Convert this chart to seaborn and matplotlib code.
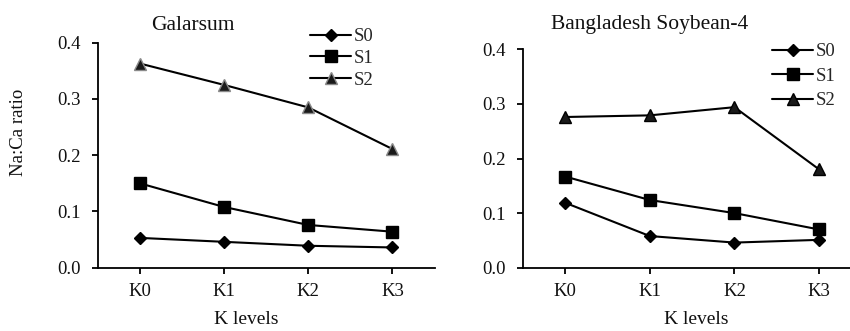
import matplotlib
matplotlib.use("Agg")
import matplotlib.pyplot as plt
import seaborn as sns
import pandas as pd

k_levels = ["K0", "K1", "K2", "K3"]
series = ["S0", "S1", "S2"]

galarsum_s0 = [0.053, 0.046, 0.039, 0.036]
galarsum_s1 = [0.150, 0.108, 0.076, 0.064]
galarsum_s2 = [0.363, 0.325, 0.285, 0.211]

soybean_s0 = [0.119, 0.058, 0.046, 0.051]
soybean_s1 = [0.167, 0.124, 0.100, 0.070]
soybean_s2 = [0.276, 0.279, 0.294, 0.180]

titles = ["Galarsum", "Bangladesh Soybean-4"]
ylabel = "Na:Ca ratio"
xlabel = "K levels"

sns.set_theme(style="ticks")
plt.rcParams["font.family"] = ["Liberation Serif", "DejaVu Serif"]
plt.rcParams["font.size"] = 13

fig = plt.figure(figsize=(8.5, 3.31), dpi=100)
W, H = 850.0, 331.0
ax1 = fig.add_axes([97.7 / W, 1 - 267.7 / H, 336.8 / W, 225.0 / H])
ax2 = fig.add_axes([522.7 / W, 1 - 267.7 / H, 338.8 / W, 218.4 / H])

markers = {"S0": ("D", 6.5), "S1": ("s", 8), "S2": ("^", 9)}

def draw(ax, vals, s2_edge):
    for name, v in zip(series, vals):
        df = pd.DataFrame({"K": k_levels, "val": v})
        m, ms = markers[name]
        if name == "S2":
            fc, ec = ("#1a1a1a", s2_edge)
        else:
            fc, ec = ("black", "black")
        sns.lineplot(data=df, x="K", y="val", ax=ax, color="black", linewidth=1.5,
                     marker=m, markersize=ms, markerfacecolor=fc, markeredgecolor=ec,
                     markeredgewidth=1.0, label=name, sort=False)
    ax.set_xlim(-0.5, 3.5)
    ax.set_ylim(0, 0.4)
    ax.set_yticks([0.0, 0.1, 0.2, 0.3, 0.4])
    ax.set_yticklabels(["0.0", "0.1", "0.2", "0.3", "0.4"])
    ax.set_xlabel("")
    ax.set_ylabel("")
    for sp in ["top", "right"]:
        ax.spines[sp].set_visible(False)
    for sp in ["left", "bottom"]:
        ax.spines[sp].set_linewidth(1.3)
        ax.spines[sp].set_color("black")
    ax.tick_params(axis="both", direction="out", length=4, width=1.3, colors="black",
                   labelsize=13.5)
    ax.tick_params(axis="y", pad=8)
    ax.tick_params(axis="x", pad=7)
    for t in ax.get_xticklabels() + ax.get_yticklabels():
        t.set_color("#111111")

draw(ax1, [galarsum_s0, galarsum_s1, galarsum_s2], "#8a8a8a")
draw(ax2, [soybean_s0, soybean_s1, soybean_s2], "black")

leg1 = ax1.legend(loc="upper left", bbox_to_anchor=(310 / W, 1 - 28 / H),
                  bbox_transform=fig.transFigure, frameon=False, fontsize=13.5,
                  handlelength=2.2, handletextpad=0.15, labelspacing=0.25,
                  borderpad=0, borderaxespad=0)
leg2 = ax2.legend(loc="upper left", bbox_to_anchor=(772 / W, 1 - 43 / H),
                  bbox_transform=fig.transFigure, frameon=False, fontsize=13.5,
                  handlelength=2.2, handletextpad=0.15, labelspacing=0.4,
                  borderpad=0, borderaxespad=0)

fig.text(193 / W, 1 - 29.5 / H, titles[0], ha="center", va="baseline", fontsize=15.5, color="#111111")
fig.text(650 / W, 1 - 29.5 / H, titles[1], ha="center", va="baseline", fontsize=15.5, color="#111111")
fig.text(18.5 / W, 1 - 132.5 / H, ylabel, ha="center", va="center", rotation=90, fontsize=13.5, color="#111111")
fig.text(246.5 / W, 3 / H, xlabel, ha="center", va="bottom", fontsize=14, color="#111111")
fig.text(696 / W, 3 / H, xlabel, ha="center", va="bottom", fontsize=14, color="#111111")

fig.savefig("out.png", dpi=100)
